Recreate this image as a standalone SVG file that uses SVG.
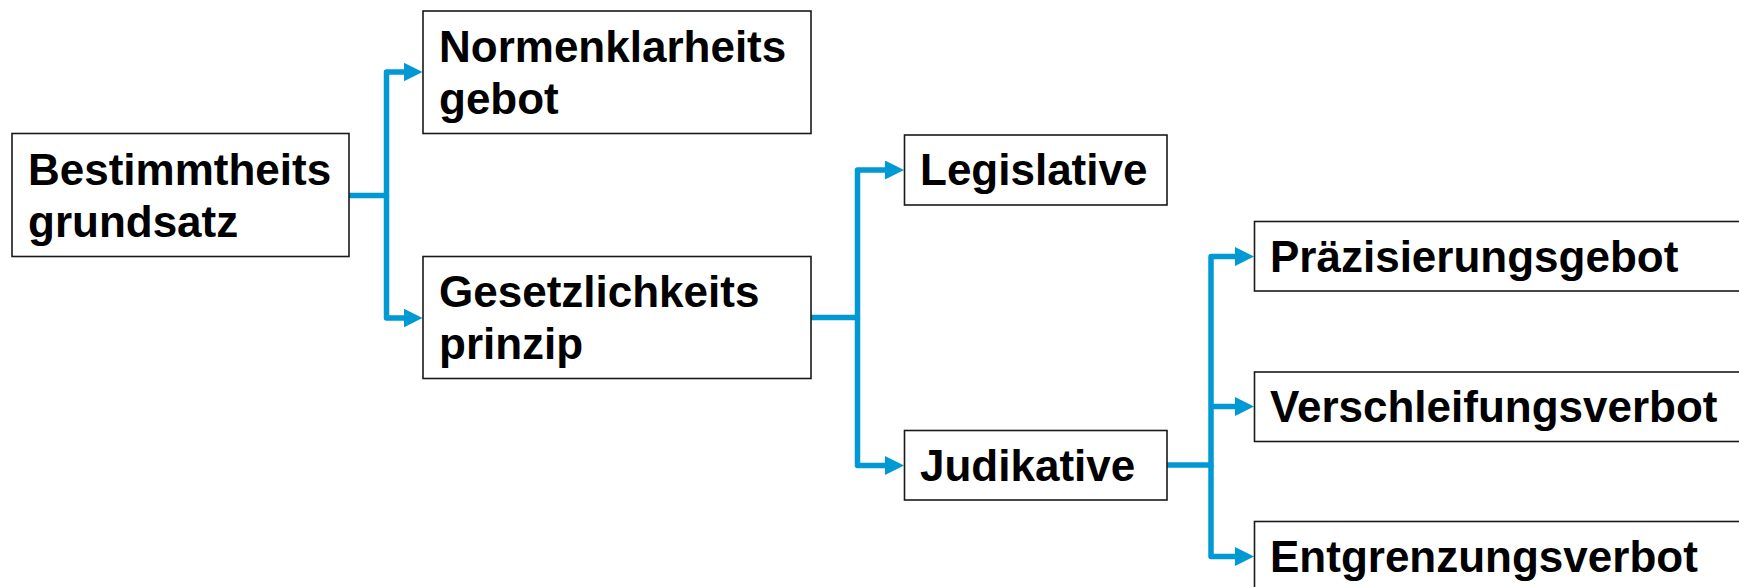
<svg xmlns="http://www.w3.org/2000/svg" width="1739" height="587" viewBox="0 0 1739 587">
<style>
.box{fill:#fff;stroke:#1a1a1a;stroke-width:1.6}
.lbl{font-family:"Liberation Sans",Arial,sans-serif;font-weight:bold;font-size:44px;fill:#000}
.con{fill:none;stroke:#0099d4;stroke-width:5.5;stroke-linejoin:round;stroke-linecap:butt}
</style>
<defs>
<marker id="arr" markerUnits="userSpaceOnUse" viewBox="0 0 19 19" markerWidth="19" markerHeight="19" refX="0.5" refY="9.5" orient="auto">
<path d="M0,0 L19,9.5 L0,19 Z" fill="#0099d4"/>
</marker>
</defs>
<rect width="1739" height="587" fill="#fff"/>
<g id="connectors">
<path class="con" d="M349,195.5 H386.5 V72 H404" marker-end="url(#arr)"/>
<path class="con" d="M386.5,195.5 V318 H404" marker-end="url(#arr)"/>
<path class="con" d="M811,317.5 H857.5 V170 H885.5" marker-end="url(#arr)"/>
<path class="con" d="M857.5,317.5 V465.5 H885.5" marker-end="url(#arr)"/>
<path class="con" d="M1167,465 H1211 V256.5 H1235.5" marker-end="url(#arr)"/>
<path class="con" d="M1211,406.5 H1235.5" marker-end="url(#arr)"/>
<path class="con" d="M1211,465 V556.5 H1235.5" marker-end="url(#arr)"/>
</g>
<g id="bestimmtheitsgrundsatz">
<rect class="box" x="12" y="133.5" width="337" height="123"/>
<text class="lbl" x="28" y="184.5">Bestimmtheits</text>
<text class="lbl" x="28" y="236.5">grundsatz</text>
</g>
<g id="normenklarheitsgebot">
<rect class="box" x="423" y="11" width="388" height="122.5"/>
<text class="lbl" x="439" y="61.5">Normenklarheits</text>
<text class="lbl" x="439" y="113.5">gebot</text>
</g>
<g id="gesetzlichkeitsprinzip">
<rect class="box" x="423" y="256.5" width="388" height="122"/>
<text class="lbl" x="439" y="307">Gesetzlichkeits</text>
<text class="lbl" x="439" y="359">prinzip</text>
</g>
<g id="legislative">
<rect class="box" x="904.5" y="135" width="262.5" height="70"/>
<text class="lbl" x="920" y="185">Legislative</text>
</g>
<g id="judikative">
<rect class="box" x="904.5" y="430.5" width="262.5" height="69.5"/>
<text class="lbl" x="920" y="481">Judikative</text>
</g>
<g id="praezisierungsgebot">
<rect class="box" x="1254.5" y="221.5" width="520" height="69.5"/>
<text class="lbl" x="1270" y="271.5">Präzisierungsgebot</text>
</g>
<g id="verschleifungsverbot">
<rect class="box" x="1254.5" y="372" width="520" height="69.5"/>
<text class="lbl" x="1270" y="422">Verschleifungsverbot</text>
</g>
<g id="entgrenzungsverbot">
<rect class="box" x="1254.5" y="521.5" width="520" height="80"/>
<text class="lbl" x="1270" y="572">Entgrenzungsverbot</text>
</g>
</svg>
